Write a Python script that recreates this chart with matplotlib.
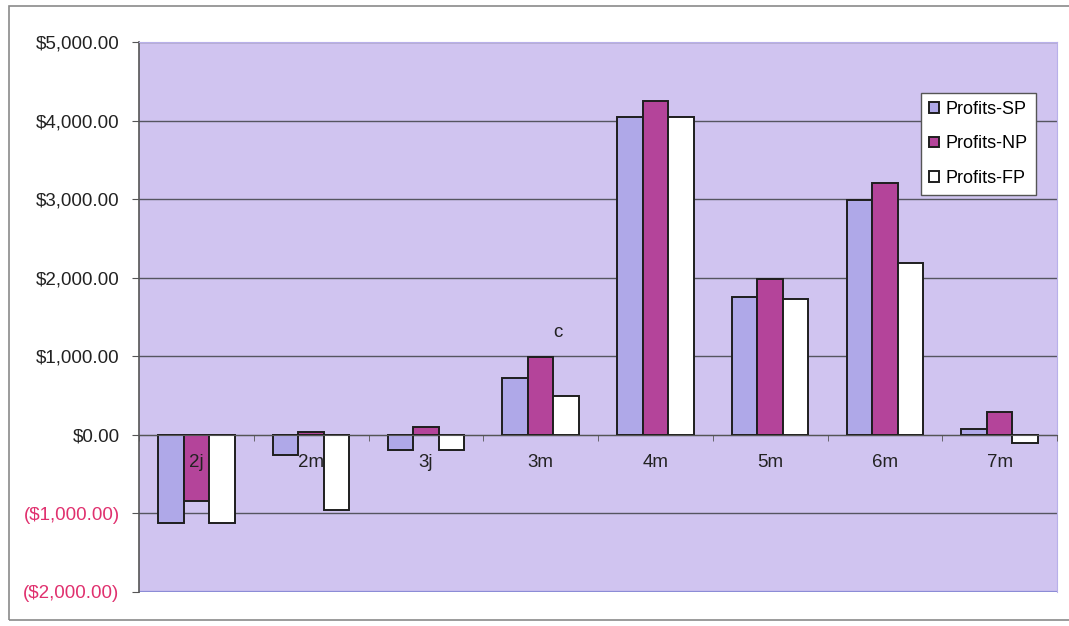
#!/usr/bin/env python3
import matplotlib

matplotlib.use("Agg")
import matplotlib.pyplot as plt
from matplotlib.patches import Rectangle
from matplotlib.ticker import FixedLocator, FuncFormatter
import numpy as np


CATEGORIES = ["2j", "2m", "3j", "3m", "4m", "5m", "6m", "7m"]
SERIES_NAMES = ["Profits-SP", "Profits-NP", "Profits-FP"]
PROFITS_SP = [-1120, -255, -190, 720, 4040, 1760, 2990, 76]
PROFITS_NP = [-840, 38, 100, 990, 4250, 1980, 3210, 290]
PROFITS_FP = [-1120, -955, -190, 495, 4040, 1735, 2190, -100]
Y_TICKS = [-2000, -1000, 0, 1000, 2000, 3000, 4000, 5000]
NOTE_TEXT = "c"

COLORS = ["#AFA8E8", "#B4449A", "#FFFFFF"]
PLOT_BG = "#D0C4F0"
GRID_COLOR = "#555560"
NEG_COLOR = "#E0306E"


def _money(value: float, _pos: int = 0) -> str:
    if value < 0:
        return f"(${abs(value):,.2f})"
    return f"${value:,.2f}"


def main() -> None:
    plt.rcParams["font.family"] = ["Liberation Sans", "DejaVu Sans"]
    fig = plt.figure(figsize=(10.69, 6.26), dpi=100)
    fig.patches.append(
        Rectangle((9 / 1069, 6 / 626), 1.2, 614 / 626, transform=fig.transFigure,
                  fill=False, edgecolor="#8A8A8A", linewidth=1.2)
    )
    ax = fig.add_axes([139 / 1069, 34 / 626, 918 / 1069, 550 / 626])
    ax.set_facecolor(PLOT_BG)

    x = np.arange(len(CATEGORIES))
    width = 1 / 4.5
    for k, (vals, name) in enumerate(zip([PROFITS_SP, PROFITS_NP, PROFITS_FP], SERIES_NAMES)):
        ax.bar(x + (k - 1) * width, vals, width, color=COLORS[k], edgecolor="#1E1E1E",
               linewidth=1.4, label=name, zorder=3)

    ax.set_xlim(-0.5, len(CATEGORIES) - 0.5)
    ax.set_ylim(Y_TICKS[0], Y_TICKS[-1])
    ax.yaxis.set_major_locator(FixedLocator(Y_TICKS))
    ax.yaxis.set_major_formatter(FuncFormatter(_money))
    ax.grid(True, axis="y", color=GRID_COLOR, linewidth=1.0)
    ax.set_axisbelow(True)
    # category labels sit on top of the bars, like in the spreadsheet
    ax.xaxis.set_zorder(5)

    ax.spines["bottom"].set_position(("data", 0))
    ax.spines["bottom"].set_color("#555555")
    ax.spines["bottom"].set_zorder(4)
    ax.spines["left"].set_color("#555555")
    ax.spines["left"].set_linewidth(1.2)
    ax.spines["top"].set_color("#B8B0EA")
    ax.spines["right"].set_color("#B8B0EA")
    ax.axhline(Y_TICKS[0], color="#8C8CD6", linewidth=1.6, zorder=2)

    ax.set_xticks(x)
    ax.set_xticklabels(CATEGORIES)
    ax.set_xticks(np.arange(len(CATEGORIES) + 1) - 0.5, minor=True)
    ax.tick_params(axis="x", which="major", length=0, pad=14, labelsize=13.5, colors="#222222")
    ax.tick_params(axis="x", which="minor", length=4, direction="out", color="#555555")
    ax.tick_params(axis="y", length=5, direction="out", color="#555555", labelsize=13.5, pad=9)

    for tick, label in zip(Y_TICKS, ax.get_yticklabels()):
        label.set_color(NEG_COLOR if tick < 0 else "#222222")

    ax.text(3.15, 1300, NOTE_TEXT, fontsize=13.5, color="#222222", ha="center", va="center")

    ax.legend(loc="upper right", bbox_to_anchor=(0.977, 0.907), borderaxespad=0.0,
              fontsize=13, frameon=True, fancybox=False, edgecolor="#555555",
              framealpha=1.0, handlelength=0.55, handleheight=0.55, handletextpad=0.35,
              labelspacing=0.95, borderpad=0.45)

    fig.savefig("out.png", dpi=100)
    plt.close(fig)


if __name__ == "__main__":
    main()
